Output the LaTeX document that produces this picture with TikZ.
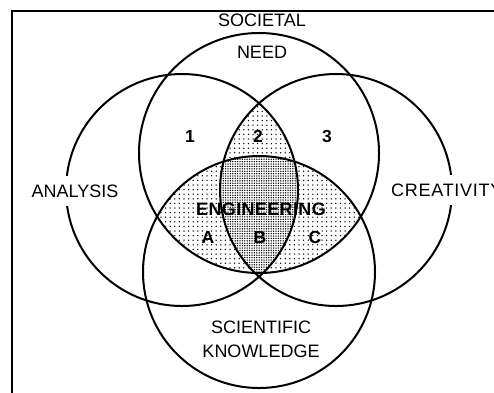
\documentclass[tikz,border=0pt]{standalone}
\usepackage{fontspec}
\setmainfont{Liberation Sans}
\usetikzlibrary{patterns.meta}
\begin{document}
\begin{tikzpicture}[x=1pt,y=-1pt,
  ring/.style={line width=2pt},
  frame/.style={line width=1.7pt},
  outer/.style={font={\fontsize{18}{20}\selectfont}, inner sep=0pt},
  gapped/.style={outer, fill=white, inner xsep=2pt, minimum height=30pt},
  inner/.style={font={\fontsize{17.5}{19}\selectfont\bfseries}, inner sep=0pt},
  wide/.style={font={\fontsize{18}{20}\selectfont\bfseries\addfontfeature{LetterSpace=2}}, inner sep=0pt},
  light/.style={pattern={Dots[distance=4.6pt,radius=0.75pt]}},
  dense/.style={pattern={Dots[distance=2.4pt,radius=0.75pt]}}]
\useasboundingbox (0,0) rectangle (494,392);
\clip (0,0) rectangle (494,392);

% circle centres
\coordinate (N) at (259,153); % societal need
\coordinate (L) at (182,190); % analysis
\coordinate (R) at (336,190); % creativity
\coordinate (K) at (259,272); % scientific knowledge
\def\rN{120pt}
\def\rS{116pt}

% light dots: need & knowledge
\begin{scope}
  \clip (N) circle[radius=\rN];
  \fill[light] (K) circle[radius=\rS];
\end{scope}
% light dots: need & analysis & creativity
\begin{scope}
  \clip (N) circle[radius=\rN];
  \clip (L) circle[radius=\rS];
  \fill[light] (R) circle[radius=\rS];
\end{scope}
% dense dots: all four
\begin{scope}
  \clip (N) circle[radius=\rN];
  \clip (K) circle[radius=\rS];
  \clip (L) circle[radius=\rS];
  \fill[white] (R) circle[radius=\rS];
  \fill[dense] (R) circle[radius=\rS];
\end{scope}

% outlines
\draw[ring] (N) circle[radius=\rN];
\draw[ring] (L) circle[radius=\rS];
\draw[ring] (R) circle[radius=\rS];
\draw[ring] (K) circle[radius=\rS];
\draw[frame] (12,11) rectangle (530,430);

% outer labels
\node[outer, anchor=base] (soc) at (262,26) {SOCIETAL};
\node[outer, anchor=base] (need) at (262,58) {NEED};
\node[gapped] (ana) at (75,191) {ANALYSIS};
\node[gapped, anchor=west, font={\fontsize{18}{20}\selectfont\addfontfeature{LetterSpace=4}}] (cre) at (389,190) {CREATIVITY};
\node[outer, anchor=base] (sci) at (261,333) {SCIENTIFIC};
\node[outer, anchor=base] (know) at (261,357) {KNOWLEDGE};

% region labels
\node[inner, anchor=base] (r1) at (190,142) {1};
\node[inner, anchor=base] (r2) at (258,142) {2};
\node[inner, anchor=base] (r3) at (327,142) {3};
\node[wide, anchor=base] (eng) at (261,215) {ENGINEERING};
\node[inner, anchor=base] (ra) at (208,243) {A};
\node[inner, anchor=base] (rb) at (260,243) {B};
\node[inner, anchor=base] (rc) at (315,243) {C};
\end{tikzpicture}
\end{document}
